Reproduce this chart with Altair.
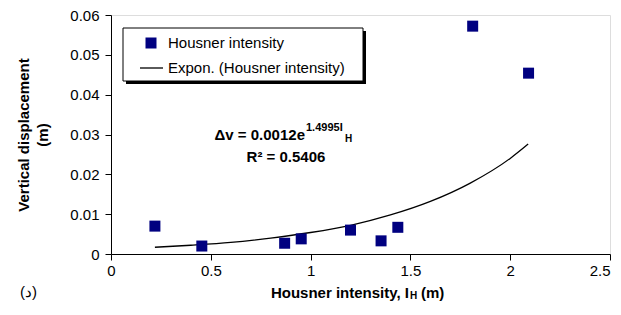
import altair as alt
import pandas as pd

# Data points
ih = [0.22, 0.455, 0.87, 0.953, 1.20, 1.353, 1.437, 1.812, 2.092]
dv = [0.0070, 0.0020, 0.0027, 0.0038, 0.0060, 0.0033, 0.0067, 0.0572, 0.0454]

# Trend line
trend_x = [0.22, 0.4, 0.6, 0.8, 1.0, 1.2, 1.4, 1.6, 1.8, 2.0, 2.09]
trend_y = [0.0017, 0.0022, 0.0029, 0.0040, 0.0054, 0.0072, 0.0098, 0.0132, 0.0178, 0.0240, 0.0276]

x_ticks = [0, 0.5, 1, 1.5, 2, 2.5]
y_ticks = [0, 0.01, 0.02, 0.03, 0.04, 0.05, 0.06]

legend_labels = ["Housner intensity", "Expon. (Housner intensity)"]
eq_main = "\u0394v = 0.0012e"
eq_sup = "1.4995I"
eq_sub = "H"
r2_text = "R\u00b2 = 0.5406"
xtitle_parts = ["Housner intensity, I", "H", "(m)"]
ytitle = ["Vertical displacement", "(m)"]
panel_label = "(\u062f)"

W, H = 499, 239
FONT = "Liberation Sans"
FS = 15

pts = pd.DataFrame({"x": ih, "y": dv})
trend = pd.DataFrame({"x": trend_x, "y": trend_y})
one = pd.DataFrame({"k": [0]})

xs = alt.Scale(domain=[0, 2.5], nice=False)
ys = alt.Scale(domain=[0, 0.06], nice=False)

xax = alt.Axis(values=x_ticks, format="~g", title=None, grid=False, tickSize=6,
               domainColor="black", tickColor="black", labelFontSize=FS,
               labelFont=FONT, labelColor="black", labelPadding=3,
               labelFlush=False, labelOverlap=False,
               labelAlign=alt.condition("datum.value >= 2.5", alt.value("right"), alt.value("center")))
yax = alt.Axis(values=y_ticks, format="~g", title=ytitle, grid=False, tickSize=6,
               domainColor="black", tickColor="black", labelFontSize=FS,
               labelFont=FONT, labelColor="black", titleFont=FONT, titleFontSize=FS,
               titleFontWeight="bold", titleColor="black", titlePadding=19,
               titleLineHeight=19, labelPadding=6,
               labelFlush=False, labelOverlap=False)

points = alt.Chart(pts).mark_square(size=121, color="#000080", opacity=1).encode(
    x=alt.X("x:Q", scale=xs, axis=xax),
    y=alt.Y("y:Q", scale=ys, axis=yax),
)

line = alt.Chart(trend).mark_line(color="black", strokeWidth=1.3, interpolate="monotone").encode(
    x=alt.X("x:Q", scale=xs, axis=xax),
    y=alt.Y("y:Q", scale=ys, axis=yax),
)

def txt(s, x, y, size=FS, weight="normal", align="left", baseline="middle"):
    return alt.Chart(pd.DataFrame({"t": [s]})).mark_text(
        font=FONT, fontSize=size, fontWeight=weight, align=align, baseline=baseline,
        color="black").encode(text="t:N", x=alt.value(x), y=alt.value(y))

# legend
shadow = alt.Chart(one).mark_rect(color="black").encode(
    x=alt.value(15), x2=alt.value(255), y=alt.value(16), y2=alt.value(69))
box = alt.Chart(one).mark_rect(fill="white", stroke="black", strokeWidth=1).encode(
    x=alt.value(12), x2=alt.value(252), y=alt.value(13), y2=alt.value(66))
leg_sq = alt.Chart(one).mark_square(size=121, color="#000080", opacity=1).encode(
    x=alt.value(40), y=alt.value(28))
leg_ln = alt.Chart(one).mark_rule(color="black", strokeWidth=1.3).encode(
    x=alt.value(29), x2=alt.value(52), y=alt.value(53))
leg_t1 = txt(legend_labels[0], 57, 28)
leg_t2 = txt(legend_labels[1], 57, 53)

# equation
e1 = txt(eq_main, 194, 120, weight="bold", align="right")
e2 = txt(eq_sup, 195, 113, size=11, weight="bold")
e3 = txt(eq_sub, 234, 124, size=10, weight="bold")
e4 = txt(r2_text, 175, 142, weight="bold", align="center")

# x title
t1 = txt(xtitle_parts[0], 298, 278, weight="bold", align="right")
t2 = txt(xtitle_parts[1], 299, 281, size=10, weight="bold")
t3 = txt(xtitle_parts[2], 310, 278, weight="bold")

pl = txt(panel_label, -91, 277)

chart = alt.layer(
    line, points, shadow, box, leg_sq, leg_ln, leg_t1, leg_t2,
    e1, e2, e3, e4, t1, t2, t3, pl
).properties(
    width=W, height=H,
    autosize=alt.AutoSizeParams(type="none"),
    padding={"left": 103, "top": 7, "right": 3, "bottom": 48},
).configure_view(stroke="#808080", strokeWidth=1).configure(background="white")

chart.save("out.html", embed_options={"renderer": "svg", "actions": False})
